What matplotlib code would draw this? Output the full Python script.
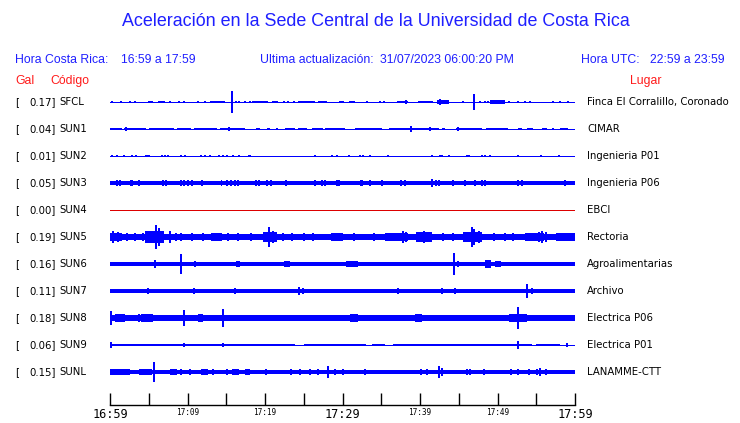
import matplotlib
matplotlib.use("Agg")
import matplotlib.pyplot as plt

# station table (top to bottom)
CODES = ["SFCL", "SUN1", "SUN2", "SUN3", "SUN4", "SUN5",
         "SUN6", "SUN7", "SUN8", "SUN9", "SUNL"]
PEAK_GAL = [0.17, 0.04, 0.01, 0.05, 0.00, 0.19, 0.16, 0.11, 0.18, 0.06, 0.15]
PLACES = ["Finca El Corralillo, Coronado", "CIMAR", "Ingenieria P01",
          "Ingenieria P06", "EBCI", "Rectoria", "Agroalimentarias", "Archivo",
          "Electrica P06", "Electrica P01", "LANAMME-CTT"]

# background noise half-amplitude (Gal) of each trace
BASE_GAL = [0.0, 0.0, 0.0, 0.028, 0.0, 0.045, 0.026, 0.028, 0.045, 0.0, 0.03]

# bursts: (start min, end min, half-amplitude Gal); spikes: (min, half-amplitude Gal)
SFCL_BLOCKS = [(4.9, 5.6, 0.022), (6.2, 7.1, 0.022), (12.9, 14.8, 0.022),
               (18.3, 20.4, 0.022), (20.9, 21.7, 0.02), (24.3, 26.5, 0.022),
               (26.9, 28.0, 0.02), (29.5, 30.2, 0.02), (30.9, 31.6, 0.02),
               (37.0, 38.5, 0.022), (39.8, 41.7, 0.022), (42.2, 43.7, 0.03),
               (49.0, 51.0, 0.035)]
SFCL_SPIKES = [(0.2, 0.02), (1.4, 0.02), (2.6, 0.02), (3.2, 0.02), (7.7, 0.015),
               (8.9, 0.015), (9.5, 0.015), (11.3, 0.015), (12.3, 0.015),
               (15.7, 0.17), (16.3, 0.02), (16.6, 0.02), (17.4, 0.015),
               (18.1, 0.015), (22.4, 0.015), (23.0, 0.015), (23.7, 0.015),
               (33.1, 0.02), (34.8, 0.022), (35.3, 0.022), (38.2, 0.03),
               (42.6, 0.04), (45.6, 0.012), (47.0, 0.125), (47.7, 0.015),
               (48.4, 0.015), (48.8, 0.015), (51.5, 0.015), (52.7, 0.015),
               (53.5, 0.02), (54.2, 0.012), (57.2, 0.012), (58.1, 0.02),
               (59.1, 0.012)]

SUN1_BLOCKS = [(0.0, 1.5, 0.023), (1.8, 4.6, 0.023), (5.0, 8.3, 0.023),
               (8.7, 10.5, 0.023), (10.8, 13.8, 0.023), (14.2, 17.4, 0.023),
               (18.9, 19.3, 0.023), (20.2, 20.6, 0.023), (22.6, 23.9, 0.023),
               (24.3, 25.4, 0.023), (26.0, 27.5, 0.023), (27.8, 30.3, 0.023),
               (31.6, 35.1, 0.023), (36.0, 42.4, 0.023), (42.8, 43.2, 0.023),
               (44.7, 48.0, 0.023), (48.5, 51.4, 0.023), (52.7, 53.1, 0.023),
               (53.8, 54.6, 0.023), (55.7, 56.4, 0.023), (58.1, 59.1, 0.023)]
SUN1_SPIKES = [(2.0, 0.026), (15.4, 0.035), (21.5, 0.02), (38.8, 0.045),
               (41.3, 0.035), (44.9, 0.035), (57.2, 0.02)]

SUN2_BLOCKS = [(4.5, 5.2, 0.015), (9.5, 9.8, 0.015), (17.85, 18.2, 0.015),
               (42.4, 43.0, 0.015)]
SUN2_SPIKES = [(0.2, 0.013), (0.9, 0.013), (1.85, 0.013), (2.9, 0.013),
               (3.3, 0.013), (6.7, 0.013), (7.1, 0.013), (7.5, 0.013),
               (9.2, 0.013), (11.8, 0.013), (12.3, 0.013), (12.9, 0.013),
               (14.0, 0.013), (14.6, 0.015), (15.1, 0.013), (15.9, 0.013),
               (16.6, 0.013), (26.5, 0.015), (28.7, 0.013), (29.3, 0.013),
               (30.9, 0.013), (32.3, 0.013), (32.7, 0.013), (33.6, 0.013),
               (35.9, 0.013), (41.6, 0.013), (43.7, 0.013), (46.0, 0.013),
               (46.3, 0.015), (48.0, 0.013), (48.4, 0.013), (49.0, 0.013),
               (52.6, 0.013), (55.6, 0.015), (57.9, 0.013)]

SUN3_BLOCKS = [(14.3, 14.5, 0.04), (32.3, 32.7, 0.04), (58.6, 58.8, 0.04)]
SUN3_SPIKES = [(0.9, 0.04), (1.3, 0.04), (2.7, 0.04), (2.9, 0.04),
               (3.7, 0.04), (6.8, 0.04), (7.2, 0.04), (9.2, 0.04),
               (9.5, 0.04), (10.0, 0.04), (10.6, 0.04), (11.9, 0.04),
               (15.1, 0.04), (15.6, 0.04), (16.1, 0.04), (16.5, 0.04),
               (18.8, 0.04), (19.2, 0.04), (20.2, 0.04), (20.8, 0.04),
               (22.7, 0.04), (26.5, 0.04), (27.3, 0.04), (27.7, 0.04),
               (29.3, 0.04), (29.6, 0.04), (33.6, 0.04), (35.1, 0.04),
               (37.5, 0.04), (38.1, 0.04), (41.6, 0.055), (42.0, 0.04),
               (42.5, 0.04), (44.3, 0.04), (45.8, 0.04), (47.1, 0.04),
               (48.0, 0.04), (48.4, 0.04), (52.6, 0.04), (53.2, 0.04)]

SUN4_BLOCKS = []
SUN4_SPIKES = []

SUN5_BLOCKS = [(0.0, 1.5, 0.065), (4.5, 7.0, 0.09), (13.0, 14.5, 0.06),
               (19.8, 21.5, 0.08), (28.5, 30.0, 0.06), (35.5, 38.5, 0.065),
               (39.5, 41.5, 0.075), (45.5, 48.0, 0.08), (53.5, 56.0, 0.06),
               (57.5, 60.0, 0.06)]
SUN5_SPIKES = [(0.4, 0.09), (1.0, 0.08), (2.2, 0.06), (3.2, 0.07), (4.2, 0.07),
               (5.9, 0.18), (6.3, 0.14), (6.8, 0.1), (7.8, 0.09), (8.5, 0.06),
               (9.2, 0.07), (10.6, 0.06), (12.0, 0.07), (13.6, 0.07),
               (15.2, 0.06), (16.5, 0.06), (18.2, 0.06), (20.5, 0.15),
               (21.0, 0.1), (22.3, 0.06), (23.5, 0.07), (25.0, 0.06),
               (26.2, 0.06), (28.6, 0.07), (29.4, 0.07), (31.5, 0.06),
               (34.0, 0.06), (36.4, 0.07), (37.8, 0.1), (38.2, 0.08),
               (39.8, 0.08), (40.5, 0.09), (41.2, 0.08), (43.0, 0.06),
               (44.2, 0.06), (46.7, 0.16), (47.0, 0.12), (47.6, 0.09),
               (49.5, 0.06), (51.0, 0.06), (52.0, 0.07), (54.0, 0.07),
               (55.3, 0.08), (55.7, 0.1), (56.2, 0.08), (57.8, 0.07),
               (58.5, 0.07), (59.4, 0.07)]

SUN6_BLOCKS = [(16.3, 16.8, 0.04), (22.5, 23.2, 0.04), (30.5, 32.0, 0.045),
               (48.4, 49.2, 0.07), (49.7, 50.5, 0.04)]
SUN6_SPIKES = [(3.0, 0.035), (3.7, 0.035), (4.5, 0.035), (4.9, 0.035),
               (5.8, 0.07), (9.1, 0.15), (11.0, 0.04), (13.2, 0.035),
               (13.5, 0.035), (14.4, 0.035), (19.1, 0.035), (22.8, 0.05),
               (25.4, 0.035), (29.0, 0.035), (29.7, 0.035), (36.1, 0.035),
               (38.4, 0.035), (44.4, 0.165), (44.9, 0.04), (46.2, 0.035),
               (53.3, 0.035), (54.4, 0.035), (56.1, 0.035), (57.4, 0.035),
               (59.7, 0.035)]

SUN7_BLOCKS = [(0.0, 2.0, 0.038), (3.5, 5.5, 0.038), (7.5, 10.0, 0.038),
               (12.3, 14.5, 0.038), (15.0, 18.5, 0.038), (25.5, 27.0, 0.038),
               (33.0, 36.5, 0.038), (38.5, 43.5, 0.038), (47.0, 49.5, 0.038),
               (52.5, 55.5, 0.038), (57.0, 59.0, 0.038)]
SUN7_SPIKES = [(4.9, 0.045), (10.8, 0.045), (16.1, 0.045), (24.4, 0.06),
               (24.9, 0.045), (37.2, 0.045), (42.8, 0.045), (44.5, 0.04),
               (53.8, 0.11), (54.4, 0.05)]

SUN8_BLOCKS = [(0.6, 1.9, 0.06), (4.0, 5.5, 0.055), (11.3, 12.0, 0.06),
               (31.0, 32.0, 0.06), (39.3, 40.2, 0.06), (51.5, 53.8, 0.055)]
SUN8_SPIKES = [(0.1, 0.11), (3.7, 0.06), (4.9, 0.05), (9.5, 0.12), (11.6, 0.07),
               (14.6, 0.14), (19.6, 0.05), (24.5, 0.05), (26.5, 0.05),
               (27.7, 0.05), (31.4, 0.07), (32.3, 0.05), (37.4, 0.05),
               (39.6, 0.07), (40.9, 0.05), (42.8, 0.05), (52.7, 0.17),
               (53.5, 0.06)]

SUN9_BLOCKS = [(0.0, 23.9, 0.023), (25.0, 33.0, 0.023), (33.8, 35.5, 0.018),
               (36.5, 54.5, 0.023), (55.0, 58.0, 0.023)]
SUN9_SPIKES = [(0.1, 0.04), (9.5, 0.03), (14.6, 0.035), (52.6, 0.06),
               (59.0, 0.025)]

SUNL_BLOCKS = [(0.0, 2.6, 0.04), (3.7, 5.4, 0.04), (7.7, 8.6, 0.04),
               (11.8, 12.7, 0.04), (15.7, 16.6, 0.04), (17.4, 18.1, 0.04)]
SUNL_SPIKES = [(5.7, 0.155), (8.0, 0.045), (9.2, 0.045), (10.3, 0.045),
               (12.3, 0.045), (13.3, 0.045), (15.1, 0.045), (20.1, 0.045),
               (23.4, 0.045), (24.5, 0.045), (25.8, 0.045), (26.9, 0.045),
               (28.1, 0.1), (29.0, 0.045), (30.1, 0.045), (32.9, 0.045),
               (40.1, 0.045), (40.9, 0.045), (42.4, 0.09), (42.8, 0.06),
               (46.0, 0.045), (46.5, 0.045), (48.2, 0.045), (51.8, 0.045),
               (52.7, 0.045), (54.0, 0.045), (55.1, 0.05), (55.5, 0.06),
               (56.3, 0.045)]

TICK_MIN = [0, 5, 10, 15, 20, 25, 30, 35, 40, 45, 50, 55, 60]
TICK_LABELS = ["16:59", "", "17:09", "", "17:19", "", "17:29", "",
               "17:39", "", "17:49", "", "17:59"]

BLOCKS = [SFCL_BLOCKS, SUN1_BLOCKS, SUN2_BLOCKS, SUN3_BLOCKS, SUN4_BLOCKS,
          SUN5_BLOCKS, SUN6_BLOCKS, SUN7_BLOCKS, SUN8_BLOCKS, SUN9_BLOCKS,
          SUNL_BLOCKS]
SPIKES = [SFCL_SPIKES, SUN1_SPIKES, SUN2_SPIKES, SUN3_SPIKES, SUN4_SPIKES,
          SUN5_SPIKES, SUN6_SPIKES, SUN7_SPIKES, SUN8_SPIKES, SUN9_SPIKES,
          SUNL_SPIKES]

W, H = 740, 423
BLUE = "#0000ff"
TXT_BLUE = "#1f1fff"
RED = "#ff1a1a"
GAL_PX = 64.0   # pixels per Gal
ROW_PX = 27.0   # pixels between traces
ROW = ROW_PX / GAL_PX


def fx(x):
    return x / W


def fy(y):
    return 1 - y / H


fig = plt.figure(figsize=(7.4, 4.23), dpi=100)
fig.patch.set_facecolor("white")

top_px, bot_px = 88, 405
ax = fig.add_axes([fx(110), fy(bot_px), fx(575) - fx(110), fy(top_px) - fy(bot_px)])
ax.set_xlim(0, 60)
ax.set_ylim(14 / GAL_PX - (bot_px - top_px) / GAL_PX, 14 / GAL_PX)

for i in range(len(CODES)):
    y0 = -i * ROW
    color = "#dd0000" if PEAK_GAL[i] == 0 else BLUE
    ax.plot([0, 60], [y0, y0], color=color, lw=0.72, antialiased=False)
    if BASE_GAL[i] > 0:
        ax.fill_between([0, 60], y0 - BASE_GAL[i], y0 + BASE_GAL[i],
                        color=color, lw=0, antialiased=False)
    for t0, t1, a in BLOCKS[i]:
        ax.fill_between([t0, t1], y0 - a, y0 + a, color=color, lw=0,
                        antialiased=True)
    for t, a in SPIKES[i]:
        ax.vlines(t, y0 - a, y0 + a, color=color, lw=1.3, antialiased=False)

for s in ["top", "left", "right"]:
    ax.spines[s].set_visible(False)
ax.spines["bottom"].set_linewidth(1.0)
ax.set_yticks([])
ax.set_xticks(TICK_MIN)
ax.set_xticklabels(TICK_LABELS, family="DejaVu Sans Mono")
ax.tick_params(axis="x", direction="in", length=9, width=1, pad=2)
for k, lab in enumerate(ax.get_xticklabels()):
    lab.set_fontsize(8.6 if TICK_MIN[k] % 30 == 0 else 5.6)
    lab.set_verticalalignment("top")

# header text
fig.text(fx(376), fy(22), "Aceleración en la Sede Central de la Universidad de Costa Rica",
         ha="center", va="center", fontsize=12.9, color=TXT_BLUE,
         family="Liberation Sans")
hdr = dict(fontsize=8.8, color=TXT_BLUE, family="Liberation Sans", va="center")
fig.text(fx(15), fy(60), "Hora Costa Rica:", **hdr)
fig.text(fx(121), fy(60), "16:59 a 17:59", **hdr)
fig.text(fx(260), fy(60), "Ultima actualización:", **hdr)
fig.text(fx(380), fy(60), "31/07/2023 06:00:20 PM", **hdr)
fig.text(fx(581), fy(60), "Hora UTC:", **hdr)
fig.text(fx(650), fy(60), "22:59 a 23:59", **hdr)

red = dict(fontsize=8.8, color=RED, family="Liberation Sans", va="center")
fig.text(fx(15), fy(81), "Gal", **red)
fig.text(fx(50), fy(81), "Código", **red)
fig.text(fx(630), fy(81), "Lugar", **red)

row = dict(fontsize=7.3, color="black", family="DejaVu Sans", va="center")
for i, code in enumerate(CODES):
    ypx = 102 + i * ROW_PX
    fig.text(fx(15), fy(ypx), "[", **row)
    fig.text(fx(56), fy(ypx), f"{PEAK_GAL[i]:.2f}]", ha="right", **row)
    fig.text(fx(59), fy(ypx), code, **row)
    fig.text(fx(587), fy(ypx), PLACES[i], **row)

fig.savefig("out.png", dpi=100)
